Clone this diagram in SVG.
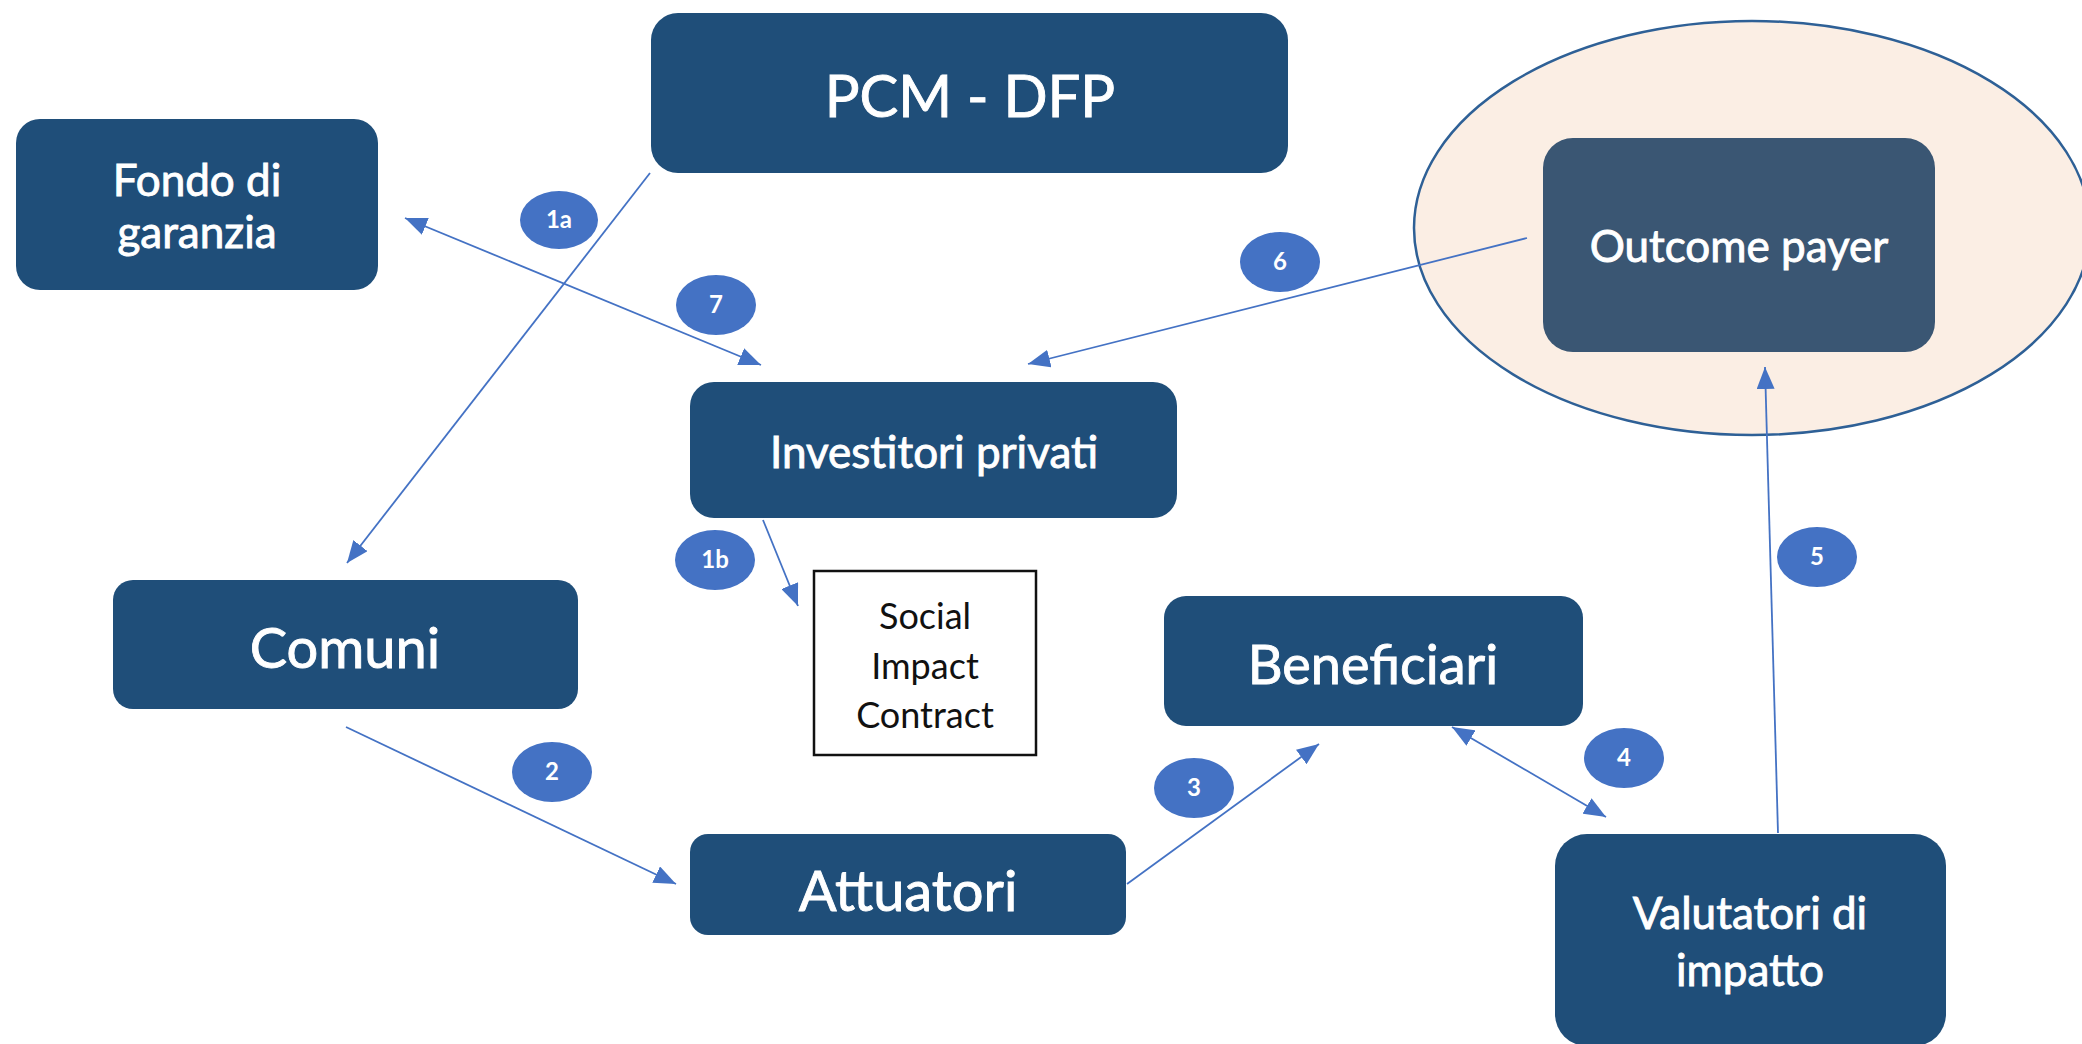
<svg xmlns="http://www.w3.org/2000/svg" width="2082" height="1044" viewBox="0 0 2082 1044">
<defs>
<style>
.box{fill:#1F4E79;}
.op{fill:#3A5673;}
.lbl{font-family:Lato,"Liberation Sans",sans-serif;fill:#FFFFFF;stroke:#FFFFFF;stroke-width:0.9;text-anchor:middle;}
.sic{font-family:Lato,"Liberation Sans",sans-serif;fill:#111111;text-anchor:middle;font-size:36px;}
.badge{fill:#4472C4;}
.bt{font-family:Lato,"Liberation Sans",sans-serif;fill:#FFFFFF;text-anchor:middle;font-size:24px;font-weight:bold;}
.conn{stroke:#4472C4;stroke-width:1.8;fill:none;}
</style>
<marker id="ah" markerUnits="userSpaceOnUse" markerWidth="22" markerHeight="18" refX="22" refY="9" orient="auto-start-reverse" viewBox="0 0 22 18">
<path d="M0,0 L22,9 L0,18 z" fill="#4472C4"/>
</marker>
</defs>
<rect width="2082" height="1044" fill="#FFFFFF"/>

<g id="outcome-area">
<ellipse cx="1752" cy="228" rx="338" ry="207" fill="#FBEEE4" stroke="#2E6096" stroke-width="2.5"/>
</g>

<g id="connectors">
<line class="conn" x1="650" y1="173" x2="347" y2="563" marker-end="url(#ah)"/>
<line class="conn" x1="405" y1="218" x2="761" y2="365" marker-start="url(#ah)" marker-end="url(#ah)"/>
<line class="conn" x1="1527" y1="238" x2="1028" y2="364" marker-end="url(#ah)"/>
<line class="conn" x1="763" y1="520" x2="798" y2="606" marker-end="url(#ah)"/>
<line class="conn" x1="346" y1="727" x2="676" y2="884" marker-end="url(#ah)"/>
<line class="conn" x1="1127" y1="884" x2="1319" y2="744" marker-end="url(#ah)"/>
<line class="conn" x1="1452" y1="727" x2="1606" y2="817" marker-start="url(#ah)" marker-end="url(#ah)"/>
<line class="conn" x1="1778" y1="833" x2="1765" y2="367" marker-end="url(#ah)"/>
</g>

<g id="pcm-dfp">
<rect class="box" x="651" y="13" width="637" height="160" rx="27"/>
<text class="lbl" x="970" y="117" font-size="58">PCM - DFP</text>
</g>

<g id="fondo-di-garanzia">
<rect class="box" x="16" y="119" width="362" height="171" rx="24"/>
<text class="lbl" x="197" y="196" font-size="44">Fondo di</text>
<text class="lbl" x="197" y="248" font-size="44">garanzia</text>
</g>

<g id="outcome-payer">
<rect class="op" x="1543" y="138" width="392" height="214" rx="30"/>
<text class="lbl" x="1739" y="262" font-size="44">Outcome payer</text>
</g>

<g id="investitori-privati">
<rect class="box" x="690" y="382" width="487" height="136" rx="24"/>
<text class="lbl" x="934" y="468" font-size="44">Investitori privati</text>
</g>

<g id="social-impact-contract">
<rect x="814" y="571" width="222" height="184" fill="#FFFFFF" stroke="#111111" stroke-width="2.5"/>
<text class="sic" x="925" y="629">Social</text>
<text class="sic" x="925" y="679">Impact</text>
<text class="sic" x="925" y="728">Contract</text>
</g>

<g id="comuni">
<rect class="box" x="113" y="580" width="465" height="129" rx="20"/>
<text class="lbl" x="345" y="668" font-size="56">Comuni</text>
</g>

<g id="attuatori">
<rect class="box" x="690" y="834" width="436" height="101" rx="18"/>
<text class="lbl" x="908" y="911" font-size="56">Attuatori</text>
</g>

<g id="beneficiari">
<rect class="box" x="1164" y="596" width="419" height="130" rx="22"/>
<text class="lbl" x="1373" y="684" font-size="54">Beneficiari</text>
</g>

<g id="valutatori-di-impatto">
<rect class="box" x="1555" y="834" width="391" height="212" rx="32"/>
<text class="lbl" x="1750" y="929" font-size="44">Valutatori di</text>
<text class="lbl" x="1750" y="986" font-size="44">impatto</text>
</g>

<g id="badge-1a"><ellipse class="badge" cx="559" cy="220" rx="39" ry="29"/><text class="bt" x="559" y="228">1a</text></g>
<g id="badge-7"><ellipse class="badge" cx="716" cy="305" rx="40" ry="30"/><text class="bt" x="716" y="313">7</text></g>
<g id="badge-6"><ellipse class="badge" cx="1280" cy="262" rx="40" ry="30"/><text class="bt" x="1280" y="270">6</text></g>
<g id="badge-1b"><ellipse class="badge" cx="715" cy="560" rx="40" ry="30"/><text class="bt" x="715" y="568">1b</text></g>
<g id="badge-2"><ellipse class="badge" cx="552" cy="772" rx="40" ry="30"/><text class="bt" x="552" y="780">2</text></g>
<g id="badge-3"><ellipse class="badge" cx="1194" cy="788" rx="40" ry="30"/><text class="bt" x="1194" y="796">3</text></g>
<g id="badge-4"><ellipse class="badge" cx="1624" cy="758" rx="40" ry="30"/><text class="bt" x="1624" y="766">4</text></g>
<g id="badge-5"><ellipse class="badge" cx="1817" cy="557" rx="40" ry="30"/><text class="bt" x="1817" y="565">5</text></g>
</svg>
